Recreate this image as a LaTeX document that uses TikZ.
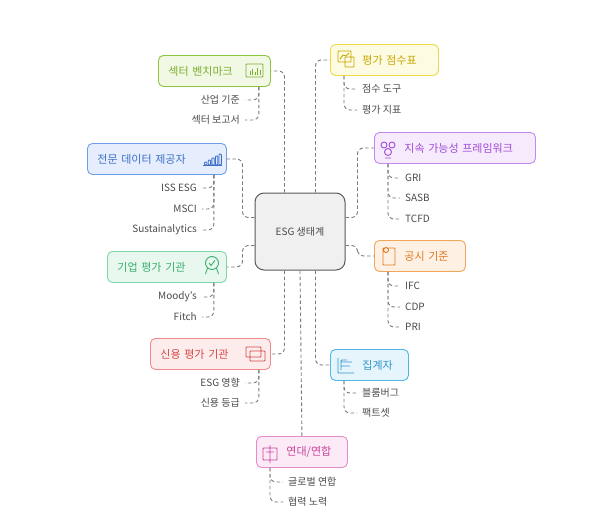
\documentclass[tikz,border=0pt]{standalone}
\usepackage{fontspec}
\setmainfont{Noto Sans CJK KR}
\usetikzlibrary{positioning}
\definecolor{linkgray}{HTML}{7A7A7A}
\definecolor{txtgray}{HTML}{4A4A4A}
\definecolor{grnD}{HTML}{8CC63F}\definecolor{grnF}{HTML}{F1F8E4}\definecolor{grnT}{HTML}{7AAF2E}
\definecolor{bluD}{HTML}{6D9EEB}\definecolor{bluF}{HTML}{E6EEFD}\definecolor{bluT}{HTML}{3D6FC9}
\definecolor{mntD}{HTML}{7FD6A6}\definecolor{mntF}{HTML}{E9F8EF}\definecolor{mntT}{HTML}{3CAF6E}
\definecolor{redD}{HTML}{F08A8A}\definecolor{redF}{HTML}{FDECEC}\definecolor{redT}{HTML}{D84848}
\definecolor{pnkD}{HTML}{E88BC8}\definecolor{pnkF}{HTML}{FCEAF6}\definecolor{pnkT}{HTML}{C9449C}
\definecolor{ylwD}{HTML}{EFD84A}\definecolor{ylwF}{HTML}{FEFBE3}\definecolor{ylwT}{HTML}{C7A800}
\definecolor{prpD}{HTML}{C58AF0}\definecolor{prpF}{HTML}{F6EBFD}\definecolor{prpT}{HTML}{A24BD8}
\definecolor{orgD}{HTML}{F2A65A}\definecolor{orgF}{HTML}{FEF1E4}\definecolor{orgT}{HTML}{DD7A22}
\definecolor{cynD}{HTML}{4FB6E8}\definecolor{cynF}{HTML}{E6F5FC}\definecolor{cynT}{HTML}{2C95CC}
\tikzset{
  topic/.style n args={4}{draw=#1, fill=#2, text=#3, line width=0.9pt, rounded corners=5pt,
    minimum height=31pt, text width=#4-20pt, inner xsep=10pt, inner ysep=0pt, align=left,
    font=\fontsize{11}{12}\selectfont, anchor=north west},
  leaf/.style={text=txtgray, font=\fontsize{10}{11}\selectfont, inner sep=1pt},
  link/.style={draw=linkgray, dash pattern=on 3.5pt off 2.5pt, line width=0.9pt, rounded corners=6pt},
  twig/.style={link, shorten >=4pt},
  icon/.style={line width=0.9pt, rounded corners=0.8pt},
}
\begin{document}
\begin{tikzpicture}[x=1pt,y=-1pt]
  \useasboundingbox (0,0) rectangle (600,512);

  % centre
  \node[draw=black!65, fill=black!6, line width=1pt, rounded corners=9pt,
        minimum width=90pt, minimum height=77pt, text=txtgray,
        font=\fontsize{10}{12}\selectfont] (eco) at (300,231.5) {ESG 생태계};

  % topics
  \node[topic={grnD}{grnF}{grnT}{112pt}] (bench) at (158,55) {섹터 벤치마크};
  \node[topic={bluD}{bluF}{bluT}{139pt}] (data) at (87,143) {전문 데이터 제공자};
  \node[topic={mntD}{mntF}{mntT}{119pt}] (rate) at (107,251) {기업 평가 기관};
  \node[topic={redD}{redF}{redT}{120pt}] (credit) at (150,338) {신용 평가 기관};
  \node[topic={pnkD}{pnkF}{pnkT}{91pt}] (allies) at (256,436) {\hspace*{20pt}연대/연합};
  \node[topic={ylwD}{ylwF}{ylwT}{108pt}] (score) at (330,44) {\hspace*{22pt}평가 점수표};
  \node[topic={prpD}{prpF}{prpT}{161pt}] (frame) at (374,132) {\hspace*{20pt}지속 가능성 프레임워크};
  \node[topic={orgD}{orgF}{orgT}{91pt}] (disc) at (374,240) {\hspace*{20pt}공시 기준};
  \node[topic={cynD}{cynF}{cynT}{78pt}] (aggr) at (330,349) {\hspace*{22pt}집계자};

  % icons
  \draw[icon, grnT] (246,64) rectangle (263,77);
  \foreach \h [count=\i] in {4,6,3,7,5} \draw[grnT, line width=1pt] (247.5+2.6*\i,75) -- ++(0,-\h);
  \foreach \h [count=\i] in {3,5,7,9,11} \draw[icon, bluT] (201+3.6*\i,165) rectangle ++(2.4,-\h);
  \draw[bluT, line width=0.9pt] (203,165.5) -- (222,165.5);
  \draw[icon, mntT] (212,263) circle (6.5);
  \draw[mntT, line width=0.9pt] (209,263) -- (211,265.5) -- (215,260.5) (207.5,268) -- (205.5,274) (216.5,268) -- (218.5,274);
  \draw[icon, redT] (246,347) rectangle ++(15,10) (250,351) rectangle ++(15,10);
  \draw[icon, pnkT] (263,448) rectangle ++(14,12) (266,452) -- ++(8,0) (270,445) -- ++(0,18);
  \draw[icon, ylwT] (338,51) rectangle ++(13,11) (345,57) rectangle ++(9,10);
  \draw[ylwT, line width=0.9pt] (340,59) -- (343,55) -- (346,56) -- (349,53);
  \draw[icon, prpT] (384,145) circle (3) (392,145) circle (3) (388,152) circle (3.5) (385,158) -- (391,158);
  \draw[icon, orgT] (383,248) rectangle ++(12,17) (386,250) circle (2.5);
  \draw[icon, cynT] (338,358) -- (338,373) -- (354,373) (341,370) -- ++(0,-10) -- ++(6,0) (341,366) -- ++(9,0) (341,362) -- ++(11,0);

  % leaves
  \node[leaf, anchor=east] (b1) at (241,100) {산업 기준};
  \node[leaf, anchor=east] (b2) at (241,120) {섹터 보고서};
  \node[leaf, anchor=east] (d1) at (198,188) {ISS ESG};
  \node[leaf, anchor=east] (d2) at (198,209) {MSCI};
  \node[leaf, anchor=east] (d3) at (198,230) {Sustainalytics};
  \node[leaf, anchor=east] (r1) at (198,297) {Moody's};
  \node[leaf, anchor=east] (r2) at (198,317) {Fitch};
  \node[leaf, anchor=east] (c1) at (241,383) {ESG 영향};
  \node[leaf, anchor=east] (c2) at (241,403) {신용 등급};
  \node[leaf, anchor=west] (a1) at (287,482) {글로벌 연합};
  \node[leaf, anchor=west] (a2) at (287,502) {협력 노력};
  \node[leaf, anchor=west] (s1) at (361,89) {점수 도구};
  \node[leaf, anchor=west] (s2) at (361,110) {평가 지표};
  \node[leaf, anchor=west] (f1) at (404,178) {GRI};
  \node[leaf, anchor=west] (f2) at (404,198) {SASB};
  \node[leaf, anchor=west] (f3) at (404,219) {TCFD};
  \node[leaf, anchor=west] (o1) at (404,286) {IFC};
  \node[leaf, anchor=west] (o2) at (404,307) {CDP};
  \node[leaf, anchor=west] (o3) at (404,327) {PRI};
  \node[leaf, anchor=west] (g1) at (361,393) {블룸버그};
  \node[leaf, anchor=west] (g2) at (361,413) {팩트셋};

  % centre to topics
  \draw[link] ([xshift=30pt]eco.north west) |- (bench.east);
  \draw[link] ([xshift=-30pt]eco.north east) |- (score.west);
  \draw[link] ([yshift=-25pt]eco.north west) -- ++(-12,0) |- (data.east);
  \draw[link] ([yshift=25pt]eco.south west) -- ++(-12,0) |- (rate.east);
  \draw[link] ([yshift=-25pt]eco.north east) -- ++(12,0) |- (frame.west);
  \draw[link] ([yshift=25pt]eco.south east) -- ++(12,0) |- (disc.west);
  \draw[link] ([xshift=30pt]eco.south west) |- (credit.east);
  \draw[link] (eco.south) -- (allies.north);
  \draw[link] ([xshift=-30pt]eco.south east) |- (aggr.west);

  % topics to leaves
  \foreach \t/\x/\l in {bench/-12/b1, bench/-12/b2, data/-13/d1, data/-13/d2, data/-13/d3,
                        rate/-13/r1, rate/-13/r2, credit/-12/c1, credit/-12/c2}
    \draw[twig] ([xshift=\x pt]\t.south east) |- (\l.east);
  \foreach \t/\x/\l in {allies/14/a1, allies/14/a2, score/14/s1, score/14/s2,
                        frame/14/f1, frame/14/f2, frame/14/f3, disc/14/o1, disc/14/o2, disc/14/o3,
                        aggr/14/g1, aggr/14/g2}
    \draw[twig] ([xshift=\x pt]\t.south west) |- (\l.west);
\end{tikzpicture}
\end{document}
